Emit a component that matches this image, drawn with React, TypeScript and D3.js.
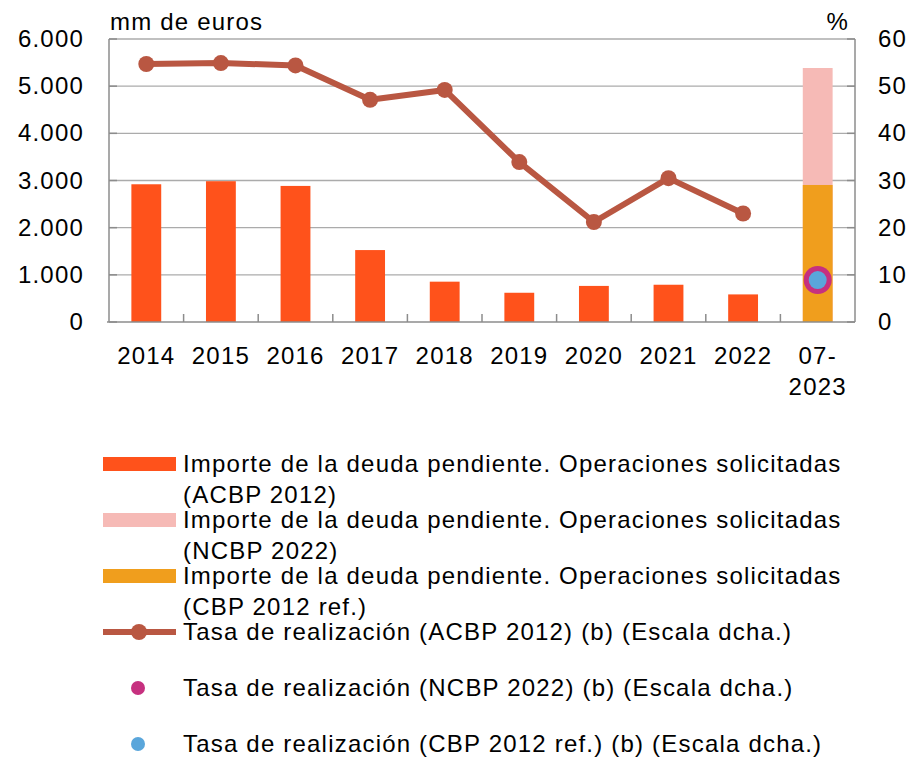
import React from 'react';
import * as d3 from 'd3';

// categories and values
const years = ['2014', '2015', '2016', '2017', '2018', '2019', '2020', '2021', '2022', '07-2023'];
const deudaACBP = [2920, 2985, 2885, 1525, 855, 620, 765, 790, 585, null];
const deudaNCBP = [null, null, null, null, null, null, null, null, null, 5385];
const deudaCBPref = [null, null, null, null, null, null, null, null, null, 2905];
const tasaACBP = [54.7, 54.9, 54.4, 47.1, 49.2, 33.9, 21.2, 30.5, 23.0, null];
const tasaNCBP = [null, null, null, null, null, null, null, null, null, 8.9];
const tasaCBPref = [null, null, null, null, null, null, null, null, null, 8.9];
const leftTicks = [0, 1000, 2000, 3000, 4000, 5000, 6000];
const rightTicks = [0, 10, 20, 30, 40, 50, 60];

const C_BAR = '#FF521B';
const C_PINK = '#F6BAB6';
const C_ORANGE = '#F09E1D';
const C_LINE = '#B95742';
const C_MAG = '#C6307F';
const C_BLUE = '#5AA6DB';

const legendItems = [
  { kind: 'rect', color: C_BAR, lines: ['Importe de la deuda pendiente. Operaciones solicitadas', '(ACBP 2012)'] },
  { kind: 'rect', color: C_PINK, lines: ['Importe de la deuda pendiente. Operaciones solicitadas', '(NCBP 2022)'] },
  { kind: 'rect', color: C_ORANGE, lines: ['Importe de la deuda pendiente. Operaciones solicitadas', '(CBP 2012 ref.)'] },
  { kind: 'line', color: C_LINE, lines: ['Tasa de realización (ACBP 2012) (b) (Escala dcha.)'] },
  { kind: 'dot', color: C_MAG, lines: ['Tasa de realización (NCBP 2022) (b) (Escala dcha.)'] },
  { kind: 'dot', color: C_BLUE, lines: ['Tasa de realización (CBP 2012 ref.) (b) (Escala dcha.)'] },
];
const legendY = [464, 520, 576, 632, 688, 744];

export default function App() {
  const W = 912, H = 758;
  const left = 109, right = 855, top = 39, bottom = 322;
  const font = 'Liberation Sans, Arial, Helvetica, sans-serif';
  const fs = 24, ls = 1.2;

  const x = d3.scaleBand().domain(years).range([left, right]).paddingInner(0.6).paddingOuter(0.3);
  const xc = (c: string) => (x(c) as number) + x.bandwidth() / 2;
  const yL = d3.scaleLinear().domain([0, 6000]).range([bottom, top]);
  const yR = d3.scaleLinear().domain([0, 60]).range([bottom, top]);

  const step = (right - left) / years.length;
  const linePts = years.map((c, i) => [c, tasaACBP[i]] as [string, number | null]).filter(d => d[1] != null) as [string, number][];
  const linePath = d3.line<[string, number]>().x(d => xc(d[0])).y(d => yR(d[1]))(linePts) || '';

  return (
    <svg width={W} height={H} style={{ position: 'absolute', left: 0, top: 0, background: '#fff' }} fontFamily={font} fontSize={fs} letterSpacing={ls}>
      {/* grid */}
      {leftTicks.filter(t => t > 0).map(t => (
        <line key={'g' + t} x1={left} x2={right} y1={yL(t)} y2={yL(t)} stroke="#ababab" strokeWidth={1.3} />
      ))}
      {/* bars */}
      {years.map((c, i) => {
        const out = [] as any[];
        if (deudaACBP[i] != null) out.push(<rect key={'a' + c} x={x(c)} width={x.bandwidth()} y={yL(deudaACBP[i] as number)} height={bottom - yL(deudaACBP[i] as number)} fill={C_BAR} />);
        if (deudaNCBP[i] != null) out.push(<rect key={'n' + c} x={x(c)} width={x.bandwidth()} y={yL(deudaNCBP[i] as number)} height={bottom - yL(deudaNCBP[i] as number)} fill={C_PINK} />);
        if (deudaCBPref[i] != null) out.push(<rect key={'r' + c} x={x(c)} width={x.bandwidth()} y={yL(deudaCBPref[i] as number)} height={bottom - yL(deudaCBPref[i] as number)} fill={C_ORANGE} />);
        return out;
      })}
      {/* axes */}
      <line x1={left} x2={left} y1={top} y2={bottom} stroke="#8c8c8c" strokeWidth={1.5} />
      <line x1={right} x2={right} y1={top} y2={bottom} stroke="#8c8c8c" strokeWidth={1.5} />
      <line x1={left - 2} x2={right} y1={bottom} y2={bottom} stroke="#8c8c8c" strokeWidth={1.5} />
      {leftTicks.map(t => (
        <g key={'l' + t}>
          <line x1={left} x2={left + 8} y1={yL(t)} y2={yL(t)} stroke="#8c8c8c" strokeWidth={1.5} />
          <text x={84} y={yL(t) + 8} textAnchor="end">{d3.format(',')(t).replace(/,/g, '.')}</text>
        </g>
      ))}
      {rightTicks.map(t => (
        <g key={'r' + t}>
          <line x1={right - 8} x2={right} y1={yR(t)} y2={yR(t)} stroke="#8c8c8c" strokeWidth={1.5} />
          <text x={878} y={yR(t) + 8} textAnchor="start">{t}</text>
        </g>
      ))}
      {years.slice(1).map((c, i) => (
        <line key={'xt' + c} x1={left + step * (i + 1)} x2={left + step * (i + 1)} y1={bottom} y2={bottom - 8} stroke="#8c8c8c" strokeWidth={1.5} />
      ))}
      {years.map(c => {
        const parts = c.includes('-') ? [c.split('-')[0] + '-', c.split('-')[1]] : [c];
        return (
          <text key={'xl' + c} x={xc(c)} y={364} textAnchor="middle">
            {parts.map((p, j) => <tspan key={j} x={xc(c)} dy={j === 0 ? 0 : 31}>{p}</tspan>)}
          </text>
        );
      })}
      <text x={110} y={30}>mm de euros</text>
      <text x={849} y={30} textAnchor="end">%</text>
      {/* line series */}
      <path d={linePath} fill="none" stroke={C_LINE} strokeWidth={6} strokeLinejoin="round" />
      {linePts.map(d => <circle key={'p' + d[0]} cx={xc(d[0])} cy={yR(d[1])} r={8} fill={C_LINE} />)}
      {years.map((c, i) => tasaNCBP[i] != null ? <circle key={'m' + c} cx={xc(c)} cy={yR(tasaNCBP[i] as number)} r={14} fill={C_MAG} /> : null)}
      {years.map((c, i) => tasaCBPref[i] != null ? <circle key={'b' + c} cx={xc(c)} cy={yR(tasaCBPref[i] as number)} r={9} fill={C_BLUE} /> : null)}
      {/* legend */}
      {legendItems.map((it, k) => {
        const cy = legendY[k];
        return (
          <g key={'lg' + k}>
            {it.kind === 'rect' && <rect x={103} y={cy - 7} width={73} height={14} fill={it.color} />}
            {it.kind === 'line' && (
              <g>
                <line x1={103} x2={176} y1={cy} y2={cy} stroke={it.color} strokeWidth={6} />
                <circle cx={139} cy={cy} r={8} fill={it.color} />
              </g>
            )}
            {it.kind === 'dot' && <circle cx={138} cy={cy} r={7} fill={it.color} />}
            <text x={183} y={cy + 8}>
              {it.lines.map((l, j) => <tspan key={j} x={183} dy={j === 0 ? 0 : 31}>{l}</tspan>)}
            </text>
          </g>
        );
      })}
    </svg>
  );
}
